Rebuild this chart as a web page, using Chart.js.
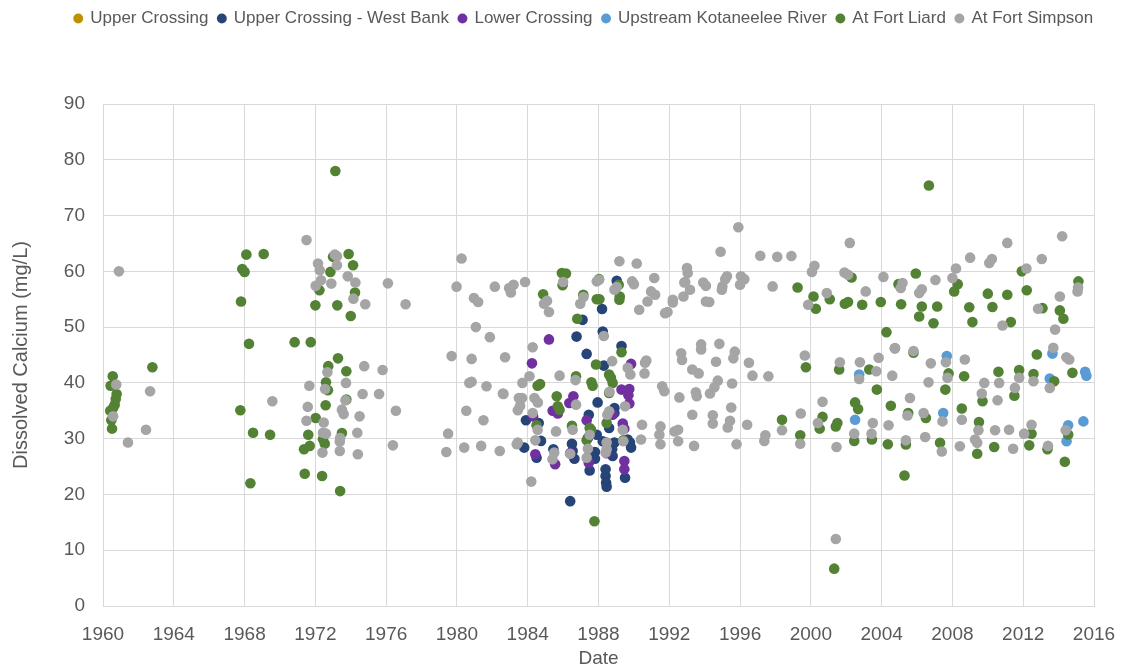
<!DOCTYPE html>
<html>
<head>
<meta charset="utf-8">
<script src="https://cdn.jsdelivr.net/npm/chart.js@4.4.1/dist/chart.umd.min.js"></script>
<style>
  html, body { margin: 0; padding: 0; background: #fff; }
  #wrap { width: 1123px; height: 671px; }
</style>
</head>
<body>
<div id="wrap"><canvas id="chart" width="1123" height="671"></canvas></div>
<script>
// --- data: [decimal year, dissolved calcium mg/L] ---
const seriesNames = ["Upper Crossing", "Upper Crossing - West Bank", "Lower Crossing",
  "Upstream Kotaneelee River", "At Fort Liard", "At Fort Simpson"];
const seriesColors = ["#BF9000", "#264478", "#7030A0", "#5B9BD5", "#548235", "#A5A5A5"];

const yearTicks = [1960, 1964, 1968, 1972, 1976, 1980, 1984, 1988, 1992, 1996, 2000, 2004, 2008, 2012, 2016];
const calciumTicks = [0, 10, 20, 30, 40, 50, 60, 70, 80, 90];

const upperCrossing = [];

const westBank = [
  [1986.76, 48.3], [1987.1, 51.3], [1988.2, 53.25], [1989.03, 58.3], [1988.24, 49.2],
  [1987.33, 45.2], [1989.3, 46.6], [1988.3, 43.1], [1983.9, 33.3], [1984.62, 32.8],
  [1987.95, 36.5], [1987.45, 34.3], [1988.9, 35.5], [1988.9, 34.6], [1988.6, 31.9],
  [1987.9, 30.7], [1987.4, 30.1], [1989.65, 29.85], [1989.78, 29.3], [1989.84, 28.4],
  [1988.24, 29.55], [1988.43, 29.3], [1988.9, 29.3], [1988.77, 28.1], [1988.8, 26.9],
  [1983.8, 28.4], [1984.75, 29.6], [1984.5, 26.6], [1985.45, 28.1], [1986.54, 27.8],
  [1986.64, 26.4], [1986.5, 29.1], [1987.8, 27.6], [1987.8, 26.4], [1987.5, 24.3],
  [1988.4, 24.5], [1988.4, 23.3], [1988.43, 22.1], [1988.46, 21.4], [1989.5, 23.0],
  [1986.4, 18.8]
];

const lowerCrossing = [
  [1985.2, 47.8], [1984.24, 43.5], [1989.84, 43.4], [1989.3, 38.8], [1989.74, 38.9],
  [1989.69, 37.8], [1989.74, 36.3], [1986.35, 36.4], [1986.58, 37.6], [1985.41, 35.0],
  [1985.7, 34.5], [1987.33, 33.3], [1988.8, 34.3], [1989.37, 32.7], [1989.46, 31.8],
  [1984.43, 27.2], [1985.55, 25.4], [1987.45, 25.7], [1989.46, 26.0], [1989.46, 24.5],
  [1984.3, 34.0], [1986.4, 27.4], [1988.46, 27.4]
];

const kotaneelee = [
  [2002.73, 41.5], [2002.5, 33.4], [2007.68, 44.8], [2007.48, 34.6], [2013.65, 45.25],
  [2013.5, 40.8], [2014.54, 32.4], [2014.45, 29.55], [2015.5, 42.0], [2015.57, 41.3],
  [2015.4, 33.1]
];

const fortLiard = [
  [1960.55, 41.2], [1960.43, 39.5], [1960.77, 38.0], [1960.72, 37.1], [1960.66, 36.1],
  [1960.57, 35.5], [1960.41, 35.0], [1960.47, 33.3], [1960.51, 31.8], [1962.79, 42.8],
  [1967.76, 35.1], [1967.8, 54.6], [1967.87, 60.4], [1968.0, 59.9], [1968.1, 63.0],
  [1968.25, 47.0], [1968.33, 22.0], [1968.48, 31.05], [1969.08, 63.1], [1969.44, 30.7],
  [1970.83, 47.3], [1971.74, 47.3],
  [1972.0, 53.9], [1972.23, 56.6], [1972.85, 59.9], [1973.0, 62.6], [1973.24, 53.9],
  [1973.88, 63.1], [1974.13, 61.1], [1974.24, 56.2], [1974.0, 52.0], [1973.13, 78.0],
  [1972.73, 43.0], [1973.28, 44.4], [1972.6, 40.1], [1972.71, 38.7], [1973.75, 42.1],
  [1973.75, 37.0], [1972.58, 36.0], [1972.02, 33.7], [1971.6, 30.7], [1971.36, 28.1],
  [1971.68, 28.7], [1972.43, 29.9], [1972.53, 29.1], [1973.5, 31.0], [1971.4, 23.7],
  [1972.38, 23.3], [1973.4, 20.6],
  [1984.87, 55.9], [1985.93, 59.7], [1986.16, 59.6], [1985.97, 57.5], [1987.14, 55.8],
  [1987.9, 55.0], [1988.05, 55.0], [1986.8, 51.5], [1988.03, 58.6], [1989.14, 57.6],
  [1989.2, 55.5], [1989.18, 54.9], [1989.3, 45.5], [1987.86, 43.3], [1984.56, 39.5],
  [1984.7, 39.8], [1986.73, 41.2], [1987.6, 40.1], [1987.67, 39.5], [1988.6, 41.5],
  [1988.7, 40.9], [1988.8, 40.0], [1988.6, 38.2], [1985.64, 37.6], [1985.7, 35.8],
  [1985.8, 35.2], [1984.5, 32.4], [1987.5, 31.9], [1987.58, 31.6], [1988.46, 32.8],
  [1986.5, 32.3], [1987.33, 29.7], [1989.4, 29.7], [1987.77, 15.2],
  [1998.37, 33.4], [1999.4, 30.6], [1999.25, 57.1], [1999.72, 42.8], [2000.15, 55.5],
  [2000.28, 53.3], [2000.66, 33.9], [2000.5, 31.8], [2001.07, 55.0], [2001.41, 32.2],
  [2001.5, 32.8], [2001.32, 6.7], [2001.6, 42.4], [2001.92, 54.2], [2002.1, 54.5],
  [2002.3, 58.9], [2002.5, 36.5], [2002.67, 35.3], [2002.45, 29.6], [2002.9, 54.0],
  [2003.3, 42.4], [2003.45, 29.85], [2003.73, 38.8], [2003.95, 54.5], [2004.27, 49.1],
  [2004.75, 46.2], [2004.52, 35.9], [2004.35, 29.0], [2004.95, 57.7], [2005.1, 54.1],
  [2005.5, 34.6], [2005.37, 28.95], [2005.29, 23.4], [2005.8, 45.4], [2005.93, 59.6],
  [2006.27, 53.7], [2006.12, 51.9], [2006.5, 33.7], [2006.67, 75.4], [2007.14, 53.7],
  [2006.93, 50.7], [2007.3, 29.25], [2007.78, 41.7], [2007.6, 38.8], [2008.3, 57.7],
  [2008.1, 56.4], [2008.66, 41.2], [2008.53, 35.4], [2008.95, 53.55], [2009.13, 50.9],
  [2009.5, 33.0], [2009.4, 27.3], [2009.7, 36.7], [2010.0, 56.0], [2010.26, 53.6],
  [2010.6, 42.0], [2010.36, 28.5], [2011.1, 55.8], [2011.3, 50.9], [2011.5, 37.7],
  [2011.77, 42.3], [2011.92, 60.0], [2012.2, 56.6], [2012.58, 41.6], [2012.47, 30.9],
  [2012.34, 28.8], [2012.77, 45.1], [2013.09, 53.4], [2013.75, 40.3], [2013.37, 28.1],
  [2014.07, 53.0], [2014.27, 51.5], [2014.54, 30.75], [2014.35, 25.85], [2014.78, 41.8],
  [2015.12, 58.2]
];

const fortSimpson = [
  [1960.9, 60.0], [1960.75, 39.7], [1960.57, 34.0], [1961.41, 29.3], [1962.43, 31.6],
  [1962.66, 38.5], [1969.57, 36.7],
  [1971.5, 65.6], [1972.15, 61.4], [1972.25, 60.2], [1972.32, 58.4], [1972.02, 57.4],
  [1972.9, 57.8], [1973.1, 63.0], [1973.22, 62.7], [1973.22, 61.1], [1973.83, 59.1],
  [1974.26, 58.0], [1974.15, 55.1],
  [1971.66, 39.5], [1972.68, 41.9], [1972.55, 38.9], [1971.57, 35.7], [1971.5, 33.2],
  [1972.47, 32.9], [1972.43, 31.05], [1972.6, 30.9], [1972.4, 27.5], [1973.38, 29.5],
  [1973.4, 30.1], [1973.38, 27.8], [1973.5, 35.2], [1973.6, 34.4], [1973.7, 36.9],
  [1973.73, 40.0], [1974.37, 31.05], [1974.4, 27.2], [1974.5, 34.0],
  [1974.82, 54.1], [1976.1, 57.85], [1977.1, 54.1], [1974.76, 43.0], [1975.8, 42.3],
  [1974.67, 38.0], [1975.6, 38.0], [1976.55, 35.0], [1976.38, 28.8],
  [1979.7, 44.8], [1979.5, 30.9], [1979.4, 27.6],
  [1980.26, 62.3], [1979.98, 57.25], [1980.96, 55.2], [1981.2, 54.5], [1982.14, 57.25],
  [1982.95, 57.0], [1983.2, 57.6], [1983.05, 56.2], [1983.85, 58.1], [1981.07, 50.0],
  [1981.86, 48.2], [1980.83, 44.3], [1982.72, 44.6], [1980.7, 40.0], [1980.83, 40.2],
  [1981.67, 39.4], [1982.6, 38.1], [1983.5, 37.3], [1980.53, 35.0], [1981.5, 33.3],
  [1980.41, 28.4], [1981.37, 28.7], [1982.42, 27.8], [1983.38, 29.0],
  [1986.0, 58.1], [1985.09, 54.7], [1984.92, 54.2], [1985.2, 52.7], [1987.15, 55.4],
  [1986.97, 54.2], [1987.9, 58.2], [1989.18, 61.8], [1990.16, 61.4], [1993.0, 60.6],
  [1993.04, 59.7], [1988.03, 58.5], [1989.03, 57.2], [1988.9, 56.7], [1989.9, 58.2],
  [1990.0, 57.7], [1991.15, 58.8], [1990.97, 56.4], [1991.2, 55.8], [1990.3, 53.1],
  [1990.77, 54.6], [1991.9, 52.7], [1992.2, 54.9], [1992.2, 54.4], [1992.85, 58.0],
  [1993.17, 56.7], [1992.8, 55.5], [1991.76, 52.5],
  [1988.3, 48.4], [1984.28, 46.4], [1988.77, 43.9], [1989.65, 42.7], [1985.8, 41.3],
  [1984.1, 41.2], [1983.7, 40.0], [1986.7, 40.5], [1988.62, 38.4], [1989.8, 41.5],
  [1990.63, 43.6], [1990.6, 41.7], [1991.6, 39.4], [1991.72, 38.5], [1992.57, 37.4],
  [1993.5, 38.3], [1993.3, 34.3], [1982.63, 38.0], [1983.68, 37.3], [1983.57, 35.9],
  [1983.44, 35.1], [1984.38, 37.3], [1984.57, 36.5], [1986.73, 36.1], [1984.28, 34.6],
  [1988.6, 34.9], [1988.5, 34.3], [1989.5, 35.8], [1989.37, 31.6], [1986.54, 31.6],
  [1985.6, 31.3], [1984.56, 31.6], [1987.5, 30.7], [1989.4, 29.55], [1988.46, 29.3],
  [1988.46, 28.1], [1988.4, 27.5], [1990.4, 29.85], [1991.44, 30.7], [1991.5, 29.0],
  [1992.3, 31.3], [1992.5, 31.6], [1992.5, 29.55], [1993.4, 28.7], [1990.46, 32.5],
  [1991.5, 32.2], [1983.44, 29.3], [1984.43, 29.7], [1985.5, 27.5], [1985.4, 26.3],
  [1986.4, 27.3], [1987.4, 28.2], [1987.33, 26.6], [1984.2, 22.3], [1990.7, 44.0],
  [1993.8, 46.9], [1993.8, 46.0], [1994.83, 47.0], [1992.67, 45.3], [1992.72, 44.1],
  [1994.64, 43.8], [1995.7, 45.6], [1995.62, 44.4], [1993.3, 42.4], [1993.66, 41.7],
  [1996.5, 43.6], [1996.7, 41.3], [1997.6, 41.2], [1994.74, 40.4], [1994.55, 39.2],
  [1994.3, 38.1], [1995.55, 39.9], [1993.55, 37.6], [1995.5, 35.6], [1994.46, 34.2],
  [1994.46, 32.7], [1995.43, 33.2], [1995.3, 32.0], [1996.4, 32.5], [1997.43, 30.6],
  [1997.37, 29.6], [1998.37, 31.5], [1999.4, 29.1], [1995.8, 29.0],
  [1995.9, 67.9], [1994.9, 63.5], [1997.14, 62.8], [1998.1, 62.6], [1998.9, 62.75],
  [2000.2, 61.0], [2000.06, 59.9], [2002.2, 65.1], [2001.9, 59.8], [2002.1, 59.4],
  [2004.1, 59.0], [1992.9, 58.1], [1993.92, 58.0], [1994.07, 57.4], [1994.07, 54.6],
  [1994.26, 54.5], [1995.16, 58.6], [1995.0, 57.3], [1994.97, 56.7], [1995.26, 59.1],
  [1996.05, 59.1], [1996.24, 58.6], [1996.0, 57.6], [1997.84, 57.3], [1999.85, 54.0],
  [2000.9, 56.1], [2003.1, 56.4],
  [1999.66, 44.9], [2001.64, 43.7], [2002.77, 43.7], [2003.7, 42.1], [2003.83, 44.5],
  [2004.6, 41.3],
  [2014.2, 66.3], [2011.1, 65.1], [2009.0, 62.45], [2010.08, 61.5], [2010.23, 62.2],
  [2013.05, 62.2], [2008.2, 60.5], [2012.18, 60.5], [2007.04, 58.45], [2008.0, 58.8],
  [2005.18, 57.9], [2005.08, 57.0], [2006.27, 56.8], [2006.12, 56.1], [2012.84, 53.3],
  [2014.07, 55.5], [2015.1, 57.1], [2015.07, 56.4], [2013.8, 49.55], [2010.83, 50.3],
  [2004.75, 46.2], [2005.8, 45.7], [2006.78, 43.5], [2007.63, 43.7], [2008.7, 44.2],
  [2013.7, 46.3], [2014.44, 44.6], [2014.6, 44.2],
  [2001.41, 12.0], [2002.73, 40.7], [2007.72, 40.9], [2011.77, 40.9], [2012.58, 40.3],
  [2010.64, 40.0], [2009.8, 40.0], [2013.5, 39.1], [1999.43, 34.5], [2000.66, 36.6],
  [2000.4, 32.8], [2001.45, 28.5], [2002.45, 30.9], [2003.5, 32.8], [2003.43, 30.9],
  [2004.39, 32.4], [2005.6, 37.3], [2005.37, 29.7], [2005.46, 34.15], [2006.65, 40.1],
  [2006.37, 34.6], [2006.46, 30.3], [2007.4, 27.7], [2007.44, 33.1], [2008.53, 33.4],
  [2008.42, 28.65], [2009.47, 31.5], [2009.28, 29.85], [2009.4, 29.25], [2009.66, 38.1],
  [2010.55, 36.9], [2010.41, 31.5], [2011.2, 31.6], [2011.53, 39.1], [2011.43, 28.2],
  [2012.05, 30.9], [2012.47, 32.5], [2013.4, 28.7], [2014.4, 31.5]
];

const allSeries = [upperCrossing, westBank, lowerCrossing, kotaneelee, fortLiard, fortSimpson];

const textColor = "#595959";
const gridColor = "#D9D9D9";
const fontFamily = "'Liberation Sans', Arial, sans-serif";

// later series sit on top, like the original
const datasets = allSeries.map((pts, i) => ({
  label: seriesNames[i],
  data: pts.map(p => ({ x: p[0], y: p[1] })),
  backgroundColor: seriesColors[i],
  borderColor: seriesColors[i],
  pointRadius: 5.3,
  pointHoverRadius: 5.3,
  pointBorderWidth: 0,
  order: allSeries.length - i
}));

// extra room under the legend + nudge it right
const legendSpacing = {
  id: "legendSpacing",
  beforeInit(chart) {
    const fit = chart.legend.fit;
    chart.legend.fit = function () {
      fit.bind(chart.legend)();
      this.height = 104;
    };
  },
  afterLayout(chart) {
    chart.legend.left += 37;
    chart.legend.right += 37;
  }
};

new Chart(document.getElementById("chart"), {
  type: "scatter",
  data: { datasets },
  plugins: [legendSpacing],
  options: {
    responsive: false,
    animation: false,
    layout: { padding: { left: 0, right: 29, top: 0, bottom: 0 } },
    plugins: {
      tooltip: { enabled: false },
      legend: {
        position: "top",
        labels: {
          usePointStyle: true,
          pointStyle: "circle",
          boxWidth: 7,
          boxHeight: 7,
          padding: 10,
          color: textColor,
          font: { family: fontFamily, size: 17 },
          sort: (a, b) => a.datasetIndex - b.datasetIndex
        }
      }
    },
    scales: {
      x: {
        type: "linear",
        min: 1960,
        max: 2016,
        afterBuildTicks: axis => { axis.ticks = yearTicks.map(v => ({ value: v })); },
        afterFit: axis => {
          axis.height = 65;
          axis.paddingRight = 10;
        },
        ticks: {
          color: textColor,
          font: { family: fontFamily, size: 19 },
          padding: 17,
          maxRotation: 0,
          callback: v => String(v)
        },
        grid: { color: gridColor, drawTicks: false },
        border: { color: gridColor },
        title: {
          display: true,
          text: "Date",
          color: textColor,
          font: { family: fontFamily, size: 19 },
          padding: { top: 0, bottom: 1 }
        }
      },
      y: {
        min: 0,
        max: 90,
        afterBuildTicks: axis => { axis.ticks = calciumTicks.map(v => ({ value: v })); },
        afterFit: axis => { axis.width = 103; },
        ticks: {
          color: textColor,
          font: { family: fontFamily, size: 19 },
          padding: 18
        },
        grid: { color: gridColor, drawTicks: false },
        border: { color: gridColor },
        title: {
          display: true,
          text: "Dissolved Calcium (mg/L)",
          color: textColor,
          font: { family: fontFamily, size: 20 },
          padding: { top: 9, bottom: 0 }
        }
      }
    }
  }
});
</script>
</body>
</html>
